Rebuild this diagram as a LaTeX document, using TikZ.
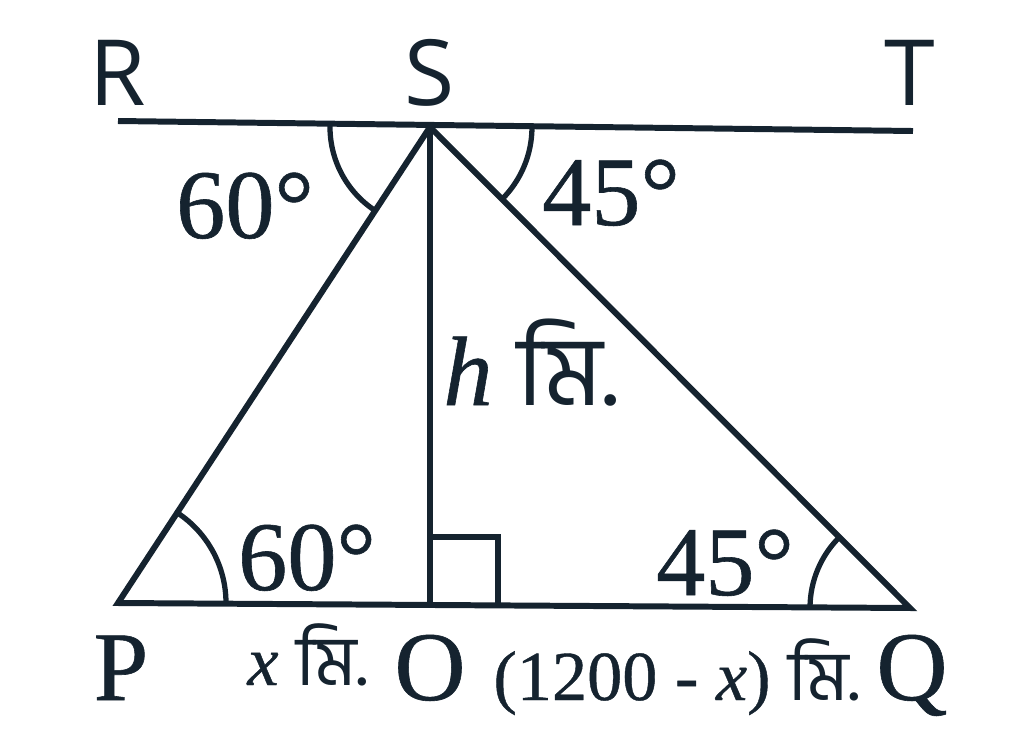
\documentclass[tikz,border=0pt]{standalone}
\usepackage{fontspec}
\setmainfont{Liberation Serif}[FakeBold=0.6]
\newfontfamily\lblsans{Open Sans}
\newfontfamily\bnfont[Script=Bengali]{Hind Siliguri}
\usetikzlibrary{angles}
\definecolor{ink}{HTML}{15232F}
\tikzset{
  ptlabel/.style={inner sep=0pt, anchor=base, text=ink, font=\lblsans\fontsize{26}{28}\selectfont},
  biglabel/.style={inner sep=0pt, anchor=base, text=ink, font=\fontsize{28}{30}\selectfont},
  lenlabel/.style={inner sep=0pt, anchor=base, text=ink, font=\fontsize{20}{22}\selectfont},
  anglemark/.style={draw=ink, line width=1.5pt, angle radius=1cm}
}
\newcommand{\mi}{\bnfont মি}

\begin{document}
\begin{tikzpicture}
\useasboundingbox (0,0) rectangle (10.24,7.49);
\coordinate (R) at (1.18,6.28);
\coordinate (T) at (9.13,6.18);
\coordinate (S) at (4.30,6.22);
\coordinate (P) at (1.18,1.46);
\coordinate (O) at (4.30,1.45);
\coordinate (Q) at (9.10,1.41);

\draw[ink, line width=1.7pt] (R) -- (T);
\draw[ink, line width=1.7pt, line join=miter] (P) -- (S) -- (Q) -- cycle;
\draw[ink, line width=1.7pt] (S) -- (O);
\draw[ink, line width=1.5pt] (O) ++(0,0.67) -- ++(0.68,0) -- ++(0,-0.67);

% angle marks
\pic[anglemark] {angle = R--S--P};
\pic[anglemark, angle radius=1.02cm] {angle = Q--S--T};
\pic[anglemark, angle radius=1.08cm] {angle = Q--P--S};
\pic[anglemark] {angle = S--Q--P};

% points
\node[ptlabel] (labR) at (1.18,6.44) {R};
\node[ptlabel] (labS) at (4.30,6.44) {S};
\node[ptlabel] (labT) at (9.10,6.44) {T};
\node[biglabel] (labP) at (1.21,0.49) {P};
\node[biglabel] (labO) at (4.30,0.49) {O};
\node[biglabel] (labQ) at (9.12,0.49) {Q};

% angles and lengths
\node[biglabel] (angRSP) at (2.45,5.11) {60°};
\node[biglabel] (angTSQ) at (6.11,5.24) {45°};
\node[biglabel] (angSPO) at (3.07,1.59) {60°};
\node[biglabel] (angSQO) at (7.25,1.54) {45°};
\node[biglabel] (height) at (5.31,3.44) {\textit{h} \mi.};
\node[lenlabel] (lenPO) at (3.08,0.64) {\textit{x} \mi.};
\node[lenlabel] (lenOQ) at (6.77,0.49) {(1200 - \textit{x}) \mi.};
\end{tikzpicture}
\end{document}
